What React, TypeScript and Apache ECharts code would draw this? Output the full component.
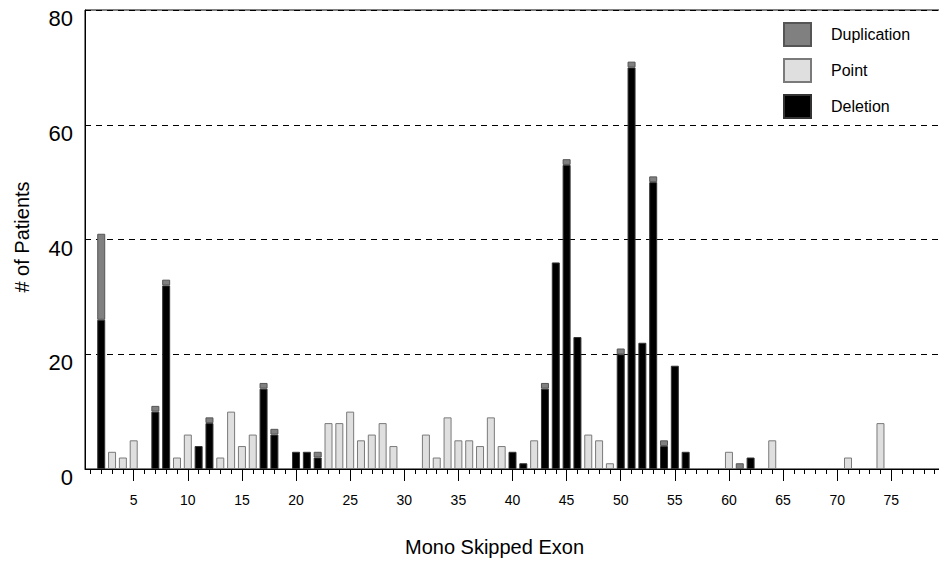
import React, { useEffect, useRef } from "react";
import * as echarts from "echarts";

// Exons 1..79
const exonLabels: string[] = Array.from({ length: 79 }, (_, i) => String(i + 1));

const deletion: number[] = [
  0, 26, 0, 0, 0, 0, 10, 32, 0, 0,
  4, 8, 0, 0, 0, 0, 14, 6, 0, 3,
  3, 2, 0, 0, 0, 0, 0, 0, 0, 0,
  0, 0, 0, 0, 0, 0, 0, 0, 0, 3,
  1, 0, 14, 36, 53, 23, 0, 0, 0, 20,
  70, 22, 50, 4, 18, 3, 0, 0, 0, 0,
  0, 2, 0, 0, 0, 0, 0, 0, 0, 0,
  0, 0, 0, 0, 0, 0, 0, 0, 0,
];

const point: number[] = [
  0, 0, 3, 2, 5, 0, 0, 0, 2, 6,
  0, 0, 2, 10, 4, 6, 0, 0, 0, 0,
  0, 0, 8, 8, 10, 5, 6, 8, 4, 0,
  0, 6, 2, 9, 5, 5, 4, 9, 4, 0,
  0, 5, 0, 0, 0, 0, 6, 5, 1, 0,
  0, 0, 0, 0, 0, 0, 0, 0, 0, 3,
  0, 0, 0, 5, 0, 0, 0, 0, 0, 0,
  2, 0, 0, 8, 0, 0, 0, 0, 0,
];

const duplication: number[] = [
  0, 15, 0, 0, 0, 0, 1, 1, 0, 0,
  0, 1, 0, 0, 0, 0, 1, 1, 0, 0,
  0, 1, 0, 0, 0, 0, 0, 0, 0, 0,
  0, 0, 0, 0, 0, 0, 0, 0, 0, 0,
  0, 0, 1, 0, 1, 0, 0, 0, 0, 1,
  1, 0, 1, 1, 0, 0, 0, 0, 0, 0,
  1, 0, 0, 0, 0, 0, 0, 0, 0, 0,
  0, 0, 0, 0, 0, 0, 0, 0, 0,
];

const legendOrder: string[] = ["Duplication", "Point", "Deletion"];
const yTicks = { min: 0, max: 80, interval: 20 };
const minorTicks = { min: 1, max: 80, interval: 1 };
const majorTicks = { min: 5, max: 80, interval: 5 };

const FONT = "'Liberation Sans', Arial, Helvetica, sans-serif";

export default function App() {
  const ref = useRef<HTMLDivElement>(null);

  useEffect(() => {
    if (!ref.current) return;
    const chart = echarts.init(ref.current, undefined, { renderer: "svg" });
    const nz = (arr: number[]) => arr.map((v) => (v ? v : null));

    const left = 85;
    const top = 10;
    const height = 459;
    const n = exonLabels.length;
    const width = 855;
    const band = width / n;
    // helper grids whose value axes line up with the category centres
    const posOf = (e: number) => left + (e - 0.5) * band;

    const hiddenY = (gridIndex: number) => ({
      type: "value",
      gridIndex,
      min: yTicks.min,
      max: yTicks.max,
      interval: yTicks.interval,
      show: false,
    });

    chart.setOption({
      animation: false,
      backgroundColor: "#fff",
      grid: [
        {
          left,
          top,
          width,
          height,
          show: true,
          borderColor: "#000",
          borderWidth: 1,
          backgroundColor: "transparent",
        },
        {
          left: posOf(minorTicks.min),
          top,
          height,
          width: posOf(minorTicks.max) - posOf(minorTicks.min),
          show: false,
        },
        {
          left: posOf(majorTicks.min),
          top,
          height,
          width: posOf(majorTicks.max) - posOf(majorTicks.min),
          show: false,
        },
      ],
      legend: {
        data: legendOrder,
        orient: "vertical",
        left: 778,
        top: 17,
        itemWidth: 27,
        itemHeight: 23,
        itemGap: 11,
        selectedMode: false,
        icon: "rect",
        textStyle: {
          fontSize: 16,
          color: "#000",
          fontFamily: FONT,
          padding: [0, 0, 0, 15],
        },
      },
      xAxis: [
        {
          type: "category",
          gridIndex: 0,
          data: exonLabels,
          axisLine: { lineStyle: { color: "#000", width: 1 } },
          axisTick: { show: false },
          axisLabel: { show: false },
          splitLine: { show: false },
        },
        {
          type: "value",
          gridIndex: 1,
          min: minorTicks.min,
          max: minorTicks.max,
          interval: minorTicks.interval,
          axisLine: { show: false },
          axisTick: { show: true, length: 5, lineStyle: { color: "#000", width: 1 } },
          axisLabel: { show: false },
          splitLine: { show: false },
        },
        {
          type: "value",
          gridIndex: 2,
          min: majorTicks.min,
          max: majorTicks.max,
          interval: majorTicks.interval,
          axisLine: { show: false },
          axisTick: { show: true, length: 12, lineStyle: { color: "#000", width: 1 } },
          axisLabel: {
            show: true,
            fontSize: 14,
            margin: 24,
            color: "#000",
            fontFamily: FONT,
            formatter: (v: number) => (v >= majorTicks.max ? "" : String(v)),
          },
          splitLine: { show: false },
        },
      ],
      yAxis: [
        {
          type: "value",
          gridIndex: 0,
          min: yTicks.min,
          max: yTicks.max,
          interval: yTicks.interval,
          axisLine: { show: true, lineStyle: { color: "#000", width: 1 } },
          axisTick: { show: false },
          axisLabel: {
            fontSize: 22,
            color: "#000",
            margin: 12,
            verticalAlign: "top",
            lineHeight: 17,
            fontFamily: FONT,
          },
          splitLine: {
            show: true,
            lineStyle: { color: "#000", type: [6, 5], width: 1 },
          },
        },
        hiddenY(1),
        hiddenY(2),
      ],
      graphic: [
        {
          type: "text",
          x: 405,
          y: 547,
          style: {
            text: "Mono Skipped Exon",
            fontSize: 20,
            fontFamily: FONT,
            fill: "#000",
            textAlign: "left",
            textVerticalAlign: "middle",
          },
        },
        {
          type: "text",
          x: 22,
          y: 237,
          rotation: Math.PI / 2,
          style: {
            text: "# of Patients",
            fontSize: 20,
            fontFamily: FONT,
            fill: "#000",
            textAlign: "center",
            textVerticalAlign: "middle",
          },
        },
      ],
      series: [
        {
          name: "Deletion",
          type: "bar",
          stack: "all",
          barWidth: 8,
          data: nz(deletion),
          itemStyle: { color: "#000", borderColor: "#333", borderWidth: 1 },
        },
        {
          name: "Point",
          type: "bar",
          stack: "all",
          barWidth: 8,
          data: nz(point),
          itemStyle: { color: "#dfdfdf", borderColor: "#7a7a7a", borderWidth: 1 },
        },
        {
          name: "Duplication",
          type: "bar",
          stack: "all",
          barWidth: 8,
          data: nz(duplication),
          itemStyle: { color: "#808080", borderColor: "#555", borderWidth: 1 },
        },
      ],
    });

    return () => chart.dispose();
  }, []);

  // The container runs a few pixels past the 939px viewport so the plot's
  // right border and the last helper ticks sit just off-screen, as in the reference.
  return (
    <div
      ref={ref}
      style={{ position: "fixed", left: 0, top: 0, width: 950, height: 563, background: "#fff" }}
    />
  );
}
